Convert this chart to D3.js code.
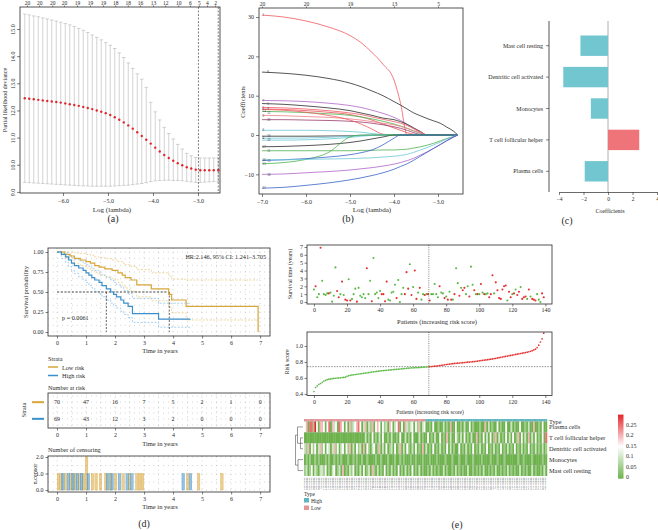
<!DOCTYPE html>
<html><head><meta charset="utf-8">
<script src="https://cdn.jsdelivr.net/npm/d3@7"></script>
<style>body{margin:0;background:#fff}svg{display:block}</style>
</head><body><svg id="c" width="658" height="530"></svg>
<script>
// ---------------- DATA ----------------
// (a) cross-validation curve
const lambdaA = [-6.85,-6.75,-6.65,-6.55,-6.45,-6.35,-6.25,-6.15,-6.05,-5.95,-5.85,-5.75,-5.65,-5.55,-5.45,-5.35,-5.25,-5.15,-5.05,-4.95,-4.85,-4.75,-4.65,-4.55,-4.45,-4.35,-4.25,-4.15,-4.05,-3.95,-3.85,-3.75,-3.65,-3.55,-3.45,-3.35,-3.25,-3.15,-3.05,-2.95,-2.85,-2.75,-2.65,-2.55];
const cvmA = [12.45,12.43,12.41,12.39,12.37,12.35,12.33,12.31,12.29,12.26,12.23,12.2,12.17,12.13,12.09,12.05,12.0,11.95,11.9,11.83,11.75,11.66,11.56,11.45,11.33,11.2,11.06,10.92,10.78,10.63,10.49,10.36,10.25,10.15,10.06,9.98,9.91,9.86,9.82,9.8,9.8,9.8,9.8,9.8];
const upA = [15.55,15.52,15.48,15.45,15.41,15.37,15.33,15.29,15.25,15.2,15.15,15.09,15.02,14.95,14.87,14.78,14.69,14.6,14.5,14.4,14.28,14.12,13.95,13.75,13.55,13.35,13.15,12.85,12.3,11.95,11.65,11.38,11.15,10.95,10.75,10.58,10.42,10.33,10.27,10.25,10.25,10.25,10.25,10.25];
const loA = [9.35,9.34,9.33,9.32,9.31,9.3,9.29,9.28,9.27,9.26,9.25,9.24,9.23,9.22,9.22,9.21,9.21,9.21,9.21,9.21,9.22,9.23,9.24,9.25,9.27,9.29,9.31,9.34,9.38,9.41,9.42,9.43,9.43,9.42,9.42,9.41,9.39,9.37,9.35,9.35,9.36,9.37,9.38,9.38];
const topLambdaA = [-6.8,-6.53,-6.24,-5.98,-5.69,-5.4,-5.11,-4.84,-4.56,-4.29,-4.0,-3.73,-3.44,-3.18,-2.98,-2.8,-2.62];
const topCountA = [20,20,20,20,19,19,19,18,18,16,13,12,10,6,5,4,2];
const vlineA = [-2.99,-2.55];
const xTicksA = [-6,-5,-4,-3];
const yTicksA = [9,10,11,12,13,14,15];

// (b) coefficient paths
const gridB = [-7,-6.5,-6,-5.5,-5,-4.75,-4.5,-4.25,-4,-3.85,-3.7,-3.55,-3.4,-3.25,-3.1,-2.95,-2.8,-2.65,-2.55];
const pathsB = [
 [30.5,30.0,29.0,27.5,25.3,23.5,21.0,18.0,14.0,8.0,0,0,0,0,0,0,0,0,0],
 [16.0,15.7,15.2,14.4,13.2,12.3,11.2,10.0,8.5,7.6,6.6,5.6,4.9,4.2,3.6,3.0,2.0,1.0,0],
 [8.8,8.7,8.5,8.1,7.5,7.0,6.3,5.5,4.5,3.7,2.7,1.6,0.6,0,0,0,0,0,0],
 [8.0,7.8,7.4,6.9,6.2,5.6,5.0,4.3,3.9,3.4,2.7,1.8,0.9,0,0,0,0,0,0],
 [7.0,6.9,6.6,6.2,5.6,5.2,4.6,4.0,3.4,3.0,2.4,1.6,0.8,0,0,0,0,0,0],
 [6.6,6.5,6.2,5.8,5.2,4.6,3.8,2.8,1.8,1.2,0.6,0.2,0,0,0,0,0,0,0],
 [6.0,5.9,5.7,5.4,5.0,4.6,4.1,3.5,2.8,2.3,1.7,1.0,0.4,0,0,0,0,0,0],
 [5.0,4.9,4.7,4.5,4.1,3.8,3.4,3.0,2.6,2.2,1.7,1.1,0.5,0,0,0,0,0,0],
 [3.9,3.9,3.8,3.7,3.5,3.3,3.0,2.6,2.1,1.7,1.2,0.6,0.1,0,0,0,0,0,0],
 [6.5,6.3,5.8,5.0,3.8,2.8,1.5,0.2,0,0,0,0,0,0,0,0,0,0,0],
 [1.2,1.2,1.2,1.1,0.9,0.7,0.4,0.1,0,0,0,0,0,0,0,0,0,0,0],
 [-0.3,-0.3,-0.3,-0.25,-0.2,-0.1,-0.05,0,0,0,0,0,0,0,0,0,0,0,0],
 [-0.8,-0.8,-0.75,-0.6,-0.3,-0.1,0,0,0,0,0,0,0,0,0,0,0,0,0],
 [-1.3,-1.3,-1.2,-1.0,-0.6,-0.3,-0.1,0,0,0,0,0,0,0,0,0,0,0,0],
 [-3.0,-2.9,-2.7,-2.4,-1.9,-1.5,-1.0,-0.5,0,0,0,0,0,0,0,0,0,0,0],
 [-4.0,-4.0,-4.0,-4.0,-4.0,-3.9,-3.9,-3.8,-3.8,-3.7,-3.6,-3.3,-3.0,-2.6,-2.1,-1.5,-0.9,-0.4,0],
 [-7.3,-7.0,-6.2,-4.5,-0.5,0,0,0,0,0,0,0,0,0,0,0,0,0,0],
 [-6.5,-6.3,-6.0,-5.6,-5.0,-4.5,-3.8,-2.5,-0.8,0,0,0,0,0,0,0,0,0,0],
 [-6.3,-6.3,-6.2,-6.1,-6.0,-5.9,-5.8,-5.6,-5.4,-5.2,-4.9,-4.4,-3.8,-3.2,-2.5,-1.8,-1.0,-0.4,0],
 [-10.0,-9.9,-9.6,-9.3,-8.9,-8.6,-8.3,-7.9,-7.4,-7.0,-6.5,-5.9,-5.1,-4.3,-3.4,-2.5,-1.5,-0.6,0],
 [-13.5,-13.3,-12.8,-12.2,-11.4,-10.9,-10.3,-9.6,-8.7,-8.0,-7.3,-6.4,-5.4,-4.4,-3.4,-2.4,-1.4,-0.5,0]
];
const pathColorsB = ["#f05a5f","#2b2b2b","#b066c8","#2b2b2b","#f05a5f","#e8505a","#4fb34f","#f07f88","#9b3b6b","#f05a5f","#6cc8d8","#2b2b2b","#6cc8d8","#6cc8d8","#2b2b2b","#4fb34f","#4fb34f","#3a63c8","#6cc8d8","#b066c8","#3a63c8"];
const pathLabelsB = ["1","8","7","5","2","9","12","3","20","14","6","10","4","19","17","11","15","13","16","18","21"];
const xTicksB = [-7,-6,-5,-4,-3];
const yTicksB = [-10,0,10,20,30];
const topCountB = [20,20,19,13,5];

// (c) model coefficients
const genesC = ["Mast cell resting","Dentritic cell activated","Monocytes","T cell follicular helper","Plasma cells"];
const coefC = [-2.25,-3.65,-1.4,2.55,-1.9];
const xTicksC = [-4,-2,0,2,4];

// (d) Kaplan-Meier
const lowT = [0,0.25,0.45,0.6,0.8,1.0,1.15,1.3,1.45,1.65,1.9,2.1,2.25,2.35,2.55,2.75,3.25,3.85,3.95,4.45,6.93];
const lowS = [1.0,0.97,0.95,0.92,0.9,0.88,0.86,0.83,0.81,0.79,0.77,0.74,0.71,0.68,0.65,0.59,0.54,0.47,0.40,0.32,0.0];
const lowUp = [1.0,1.0,1.0,0.99,0.98,0.97,0.96,0.94,0.93,0.92,0.9,0.88,0.86,0.84,0.82,0.78,0.74,0.7,0.66,0.65,0.65];
const lowLo = [1.0,0.93,0.9,0.86,0.83,0.8,0.77,0.74,0.71,0.69,0.66,0.62,0.58,0.55,0.51,0.44,0.39,0.31,0.24,0.15,0.15];
const highT = [0,0.15,0.3,0.4,0.5,0.6,0.75,0.9,1.0,1.1,1.2,1.3,1.45,1.55,1.7,1.85,1.95,2.05,2.2,2.3,2.45,2.6,3.5,4.6];
const highS = [1.0,0.97,0.94,0.90,0.86,0.83,0.80,0.77,0.74,0.71,0.68,0.65,0.62,0.58,0.54,0.50,0.47,0.44,0.40,0.36,0.32,0.23,0.16,0.16];
const highUp = [1.0,1.0,0.99,0.96,0.93,0.91,0.89,0.86,0.84,0.82,0.79,0.77,0.74,0.71,0.68,0.65,0.62,0.59,0.56,0.52,0.48,0.42,0.36,0.36];
const highLo = [1.0,0.92,0.87,0.82,0.77,0.73,0.69,0.65,0.62,0.58,0.55,0.51,0.48,0.44,0.40,0.36,0.33,0.30,0.26,0.22,0.18,0.12,0.06,0.06];
const medianT = [1.7,3.87];
const timeTicks = [0,1,2,3,4,5,6,7];
const survTicks = [0,0.25,0.5,0.75,1.0];
const atRiskLow = [70,47,16,7,5,2,1,0];
const atRiskHigh = [69,43,12,3,2,0,0,0];
const censorLowT = [0.05,0.14,0.3,0.48,0.62,0.78,0.92,1.02,1.22,1.35,1.5,1.68,1.85,2.02,2.28,2.5,2.75,2.85,2.95,4.5,4.88,5.68];
const censorLowN = [1,1,1,1,1,1,1,2,1,1,1,1,1,1,1,1,1,1,1,1,1,1];
const censorHighT = [0.2,0.4,0.55,0.7,0.85,1.08,1.75,1.9,2.15,2.42,2.58,4.35,4.6];
const censorHighN = [1,1,1,1,1,1,1,1,1,1,1,1,1];

// (e) risk plot
const riskScore = [0.43,0.48,0.50,0.52,0.53,0.545,0.56,0.57,0.578,0.584,0.588,0.591,0.594,0.596,0.598,0.600,0.602,0.604,0.606,0.609,
0.62,0.628,0.633,0.637,0.640,0.643,0.646,0.649,0.652,0.655,0.658,0.661,0.664,0.667,0.670,0.673,0.676,0.679,0.682,0.685,
0.688,0.690,0.692,0.694,0.696,0.698,0.700,0.702,0.704,0.706,0.708,0.710,0.712,0.714,0.716,0.718,0.720,0.722,0.724,0.726,
0.727,0.728,0.729,0.730,0.731,0.733,0.734,0.736,0.737,0.739,0.741,0.743,0.745,0.747,0.749,0.752,0.755,0.758,0.761,0.765,
0.768,0.771,0.774,0.777,0.779,0.781,0.783,0.785,0.787,0.789,0.791,0.793,0.795,0.797,0.799,0.801,0.803,0.805,0.808,0.811,
0.814,0.817,0.820,0.823,0.826,0.829,0.832,0.835,0.838,0.842,0.846,0.850,0.854,0.858,0.862,0.866,0.870,0.874,0.878,0.882,
0.886,0.890,0.894,0.898,0.902,0.906,0.910,0.914,0.918,0.923,0.928,0.934,0.941,0.95,0.96,0.98,1.01,1.05,1.09,1.16];
const survTime = [1.6,2.0,0.6,1.0,6.9,2.7,1.0,0.9,1.1,1.1,1.2,0.05,0.8,4.4,1.4,0.6,1.0,2.6,0.9,0.3,
0.2,2.9,0.2,0.4,1.0,1.7,0.05,1.8,0.8,0.6,1.0,0.5,4.3,1.0,2.7,0.1,5.6,1.0,1.2,0.5,
1.4,1.0,1.0,0.1,2.6,0.3,0.2,1.2,1.3,2.2,0.5,2.8,0.0,1.0,1.8,1.0,3.8,1.7,4.8,0.9,
1.9,4.0,0.4,1.2,1.8,0.3,1.0,0.9,1.0,1.0,0.2,1.0,1.0,2.3,1.0,0.6,2.0,1.2,1.1,0.5,
0.7,0.3,1.3,0.3,0.3,1.0,4.3,2.4,0.8,1.8,1.5,1.8,1.0,2.0,0.7,4.5,2.2,1.5,1.0,1.0,
1.0,2.3,1.2,1.0,1.0,1.1,0.6,1.0,3.4,1.1,2.5,1.5,0.5,0.4,1.6,2.0,2.1,0.2,1.3,0.6,
1.0,1.1,1.6,0.9,1.3,1.9,0.4,0.6,0.7,0.4,1.6,0.7,0.4,0.3,0.2,1.0,0.3,0.0,1.1,0.6];
const survDead = [0,1,0,0,1,0,0,0,0,1,0,0,0,0,1,1,0,1,0,1,
1,0,1,0,0,0,1,0,0,0,0,0,1,0,0,1,0,0,0,0,
0,1,1,1,1,0,0,0,0,0,1,0,0,0,0,1,1,1,0,1,
0,1,1,0,1,0,0,1,0,1,1,0,0,0,0,0,1,0,0,1,
0,1,0,1,0,1,0,0,1,0,1,1,0,0,1,0,0,1,0,1,
0,1,0,1,0,0,1,1,1,0,1,1,1,1,1,1,1,0,1,1,
0,1,0,1,1,0,1,1,1,0,1,0,1,1,1,0,0,0,1,1];
const cutIndex = 70;
const cutRisk = 0.741;
const patientTicks = [0,20,40,60,80,100,120,140];
const survYTicks = [0,1,2,3,4,5,6,7];
const riskYTicks = [0.4,0.6,0.8,1.0];

// heatmap (digit d -> fraction d*0.05)
const heatRows = ["Plasma cells","T cell follicular helper","Dentritic cell activated","Monocytes","Mast cell resting"];
const heatCodes = [
 ["3405516304","4303504230","5430304123","4530240214","0343031204","3023503042","1230314023","0010300100","2010400300","1020030100","0100402010","0301003002","0100300102","0040010300"],
 ["0000000000","0000000000","0000000000","0000020103","0102030010","2001030020","1030002010","0301020030","1040200310","2030102004","0103020301","4020103020","3014030204","0203010305"],
 ["2140313024","1303202413","0230314020","3120403102","3014020301","2030140203","1020301040","2010301020","1030201003","0102010301","0201030102","0103010201","0301020103","0102010201"],
 ["0101001010","0010100101","0100010010","1001001000","0100100010","0010010100","0100100010","0010001000","0100010001","0001000100","0010000100","0100010000","0001001000","0100000100"],
 ["1201302102","2130102301","2040102130","1020301204","1020103010","2010301020","1030102010","0102010100","2010010201","0100200101","0102001010","2001010201","0100201010","0201001020"]
];
const legendTicksE = [0,0.05,0.1,0.15,0.2,0.25];

// ---------------- DRAW ----------------
const F = '"Liberation Serif","DejaVu Serif","Times New Roman",serif';
const svg = d3.select('#c').attr('font-family', F);
svg.append('rect').attr('width',658).attr('height',530).attr('fill','#fff');
const INK = '#2a2a2a';

function T(g,x,y,s,o={}){
  const t=g.append('text').attr('x',x).attr('y',y).text(s)
   .attr('font-size',o.fs||6).attr('fill',o.fill||INK).attr('text-anchor',o.a||'start');
  if(o.rot!==undefined) t.attr('transform',`rotate(${o.rot},${x},${y})`);
  return t;
}
function styleAxis(sel, keepDomain){
  sel.attr('font-family',F).attr('font-size',6);
  sel.selectAll('text').attr('fill',INK);
  sel.selectAll('line').attr('stroke',INK).attr('stroke-width',0.6);
  if(!keepDomain) sel.select('.domain').remove(); else sel.select('.domain').attr('stroke',INK).attr('stroke-width',0.7);
}
function box(g,x0,y0,x1,y1,w){
  g.append('rect').attr('x',x0).attr('y',y0).attr('width',x1-x0).attr('height',y1-y0)
   .attr('fill','none').attr('stroke',INK).attr('stroke-width',w||0.8);
}

// ===== (a) =====
{
  const g = svg.append('g');
  const x = d3.scaleLinear().domain([-6.956,-2.511]).range([20,220]);
  const y = d3.scaleLinear().domain([8.96,15.81]).range([193,7]);
  const ax = g.append('g').attr('transform','translate(0,193)').call(d3.axisBottom(x).tickValues(xTicksA).tickSize(3).tickPadding(3));
  styleAxis(ax);
  const ay = g.append('g').attr('transform','translate(20,0)').call(d3.axisLeft(y).tickValues(yTicksA).tickSize(3));
  styleAxis(ay);
  ay.selectAll('text').attr('transform','rotate(-90)').attr('x',0).attr('y',-5).attr('dy',0).attr('text-anchor','middle');
  const at = g.append('g').attr('transform','translate(0,7)').call(d3.axisTop(x).tickValues(topLambdaA).tickSize(1.5).tickPadding(0.8).tickFormat((d,i)=>topCountA[i]));
  styleAxis(at); at.attr('font-size',5.5);
  lambdaA.forEach((l,i)=>{
    const cx=x(l);
    g.append('line').attr('x1',cx).attr('x2',cx).attr('y1',y(upA[i])).attr('y2',y(loA[i])).attr('stroke','#b5b5b5').attr('stroke-width',0.6);
    [upA[i],loA[i]].forEach(v=>g.append('line').attr('x1',cx-1.8).attr('x2',cx+1.8).attr('y1',y(v)).attr('y2',y(v)).attr('stroke','#b5b5b5').attr('stroke-width',0.6));
  });
  g.selectAll('circle.cv').data(lambdaA).join('circle').attr('cx',d=>x(d)).attr('cy',(d,i)=>y(cvmA[i])).attr('r',1.2).attr('fill','#e3262b');
  vlineA.forEach(v=>g.append('line').attr('x1',x(v)).attr('x2',x(v)).attr('y1',7).attr('y2',193).attr('stroke',INK).attr('stroke-width',0.6).attr('stroke-dasharray','2,1.5'));
  box(g,20,7,220,193);
  T(g,112,212,'Log (lambda)',{fs:7,a:'middle'});
  T(g,7,100,'Partial likelihood deviance',{fs:6,a:'middle',rot:-90});
  T(g,113,222,'(a)',{fs:10,a:'middle'});
}

// ===== (b) =====
{
  const g = svg.append('g');
  const x = d3.scaleLinear().domain([-7.068,-2.432]).range([259,463]);
  const y = d3.scaleLinear().domain([-15.0,32.3]).range([194,8]);
  const ax = g.append('g').attr('transform','translate(0,194)').call(d3.axisBottom(x).tickValues(xTicksB).tickSize(3).tickPadding(3));
  styleAxis(ax);
  const ay = g.append('g').attr('transform','translate(259,0)').call(d3.axisLeft(y).tickValues(yTicksB).tickSize(3).tickPadding(2));
  styleAxis(ay);
  const at = g.append('g').attr('transform','translate(0,8)').call(d3.axisTop(x).tickValues(xTicksB).tickSize(1.5).tickPadding(0.8).tickFormat((d,i)=>topCountB[i]));
  styleAxis(at); at.attr('font-size',5.5);
  const line = d3.line().x((d,i)=>x(gridB[i])).y(d=>y(d)).curve(d3.curveMonotoneX);
  pathsB.forEach((p,k)=>{
    g.append('path').attr('d',line(p)).attr('fill','none').attr('stroke',pathColorsB[k]).attr('stroke-width',0.8);
  });
  // start labels: two staggered columns, pushed apart to stay legible
  const order = pathsB.map((p,k)=>({k, yy:y(p[0])+1.2})).sort((a,b)=>a.yy-b.yy);
  const lastY=[-99,-99];
  order.forEach((o,j)=>{
    const c=j%2; let yy=Math.max(o.yy,lastY[c]+3.6); lastY[c]=yy;
    T(g,x(-7)+0.6+c*4.6,yy,pathLabelsB[o.k],{fs:3.2,fill:'#333'});
  });
  box(g,259,8,463,194);
  T(g,372,212,'Log (lambda)',{fs:7,a:'middle'});
  T(g,245,102,'Coefficients',{fs:6.5,a:'middle',rot:-90});
  T(g,348,222,'(b)',{fs:10,a:'middle'});
}

// ===== (c) =====
{
  const g = svg.append('g');
  const x = d3.scaleLinear().domain([-4,4]).range([559,657]);
  const y = d3.scaleBand().domain(genesC).range([30,187]).paddingInner(0.35).paddingOuter(0.175);
  g.append('line').attr('x1',x(0)).attr('x2',x(0)).attr('y1',21).attr('y2',192).attr('stroke','#999').attr('stroke-width',0.8);
  g.selectAll('rect.bar').data(genesC).join('rect')
    .attr('x',(d,i)=>x(Math.min(0,coefC[i]))).attr('width',(d,i)=>Math.abs(x(coefC[i])-x(0)))
    .attr('y',d=>y(d)).attr('height',y.bandwidth())
    .attr('fill',(d,i)=>coefC[i]>0?'#ef7479':'#72c6d0');
  const ax = g.append('g').attr('transform','translate(0,192)').call(d3.axisBottom(x).tickValues(xTicksC).tickSize(3).tickSizeOuter(0).tickPadding(2));
  styleAxis(ax,true); ax.attr('font-size',5.5);
  g.append('line').attr('x1',549).attr('x2',549).attr('y1',21).attr('y2',192).attr('stroke',INK).attr('stroke-width',0.8);
  genesC.forEach(d=>{
    const cy=y(d)+y.bandwidth()/2;
    g.append('line').attr('x1',546).attr('x2',549).attr('y1',cy).attr('y2',cy).attr('stroke',INK).attr('stroke-width',0.6);
    T(g,543,cy+2,d,{fs:6,a:'end'});
  });
  T(g,610,213,'Coefficients',{fs:6,a:'middle'});
  T(g,567,224,'(c)',{fs:10,a:'middle'});
}

// ===== (d) =====
const GOLD='#d8a63a', BLUE='#3b8fcb', GOLDL='#e8c978', BLUEL='#86bde6';
{
  const g = svg.append('g');
  const x = d3.scaleLinear().domain([-0.31,7.34]).range([48,270]);
  const y = d3.scaleLinear().domain([-0.05,1.05]).range([336,248]);
  function dotGrid(y0,y1,ys){
    for(let t=0;t<=7.01;t+=0.5) g.append('line').attr('x1',x(t)).attr('x2',x(t)).attr('y1',y0).attr('y2',y1).attr('stroke','#8a8a8a').attr('stroke-width',0.6).attr('stroke-dasharray','0.6,4');
    ys.forEach(v=>g.append('line').attr('x1',48).attr('x2',270).attr('y1',v).attr('y2',v).attr('stroke','#8a8a8a').attr('stroke-width',0.6).attr('stroke-dasharray','0.6,4.2'));
  }
  dotGrid(248,336,[252,258.7,265.3,272,278.7,285.3,292,298.7,305.3,312,318.7,325.3,332]);
  const step = d3.line().x(d=>x(d[0])).y(d=>y(d[1])).curve(d3.curveStepAfter);
  const zip=(t,s)=>t.map((v,i)=>[v,s[i]]);
  const ci=(t,s,end)=>{const a=zip(t,s); a.push([end,s[s.length-1]]); return a;};
  g.append('path').attr('d',step(ci(lowT.slice(0,-1),lowUp.slice(0,-1),6.93))).attr('fill','none').attr('stroke',GOLDL).attr('stroke-width',0.7).attr('stroke-dasharray','2,1.5');
  g.append('path').attr('d',step(ci(lowT.slice(0,-1),lowLo.slice(0,-1),6.93))).attr('fill','none').attr('stroke',GOLDL).attr('stroke-width',0.7).attr('stroke-dasharray','2,1.5');
  g.append('path').attr('d',step(zip(highT,highUp))).attr('fill','none').attr('stroke',BLUEL).attr('stroke-width',0.7).attr('stroke-dasharray','2,1.5');
  g.append('path').attr('d',step(zip(highT,highLo))).attr('fill','none').attr('stroke',BLUEL).attr('stroke-width',0.7).attr('stroke-dasharray','2,1.5');
  g.append('line').attr('x1',x(0)).attr('x2',x(medianT[1])).attr('y1',y(0.5)).attr('y2',y(0.5)).attr('stroke','#222').attr('stroke-width',0.8).attr('stroke-dasharray','2.2,1.5');
  medianT.forEach(t=>g.append('line').attr('x1',x(t)).attr('x2',x(t)).attr('y1',y(0.5)).attr('y2',y(0)).attr('stroke','#222').attr('stroke-width',0.7).attr('stroke-dasharray','2,1.5'));
  g.append('path').attr('d',step(zip(lowT,lowS))).attr('fill','none').attr('stroke',GOLD).attr('stroke-width',1.2);
  g.append('path').attr('d',step(zip(highT,highS))).attr('fill','none').attr('stroke',BLUE).attr('stroke-width',1.2);
  box(g,48,248,270,336);
  const ax = g.append('g').attr('transform','translate(0,336)').call(d3.axisBottom(x).tickValues(timeTicks).tickSize(2.5).tickPadding(2));
  styleAxis(ax);
  const ay = g.append('g').attr('transform','translate(48,0)').call(d3.axisLeft(y).tickValues(survTicks).tickSize(2.5).tickPadding(2).tickFormat(d3.format('.2f')));
  styleAxis(ay);
  T(g,160,353,'Time in years',{fs:6.5,a:'middle'});
  T(g,28,292,'Survival probability',{fs:6.5,a:'middle',rot:-90});
  T(g,266,259,'HR:2.146, 95% CI: 1.241–3.705',{fs:6.2,a:'end'});
  T(g,62,320,'p = 0.0061',{fs:6.2});
  T(g,48,361,'Strata',{fs:6.2});
  g.append('line').attr('x1',48).attr('x2',58).attr('y1',367).attr('y2',367).attr('stroke',GOLD).attr('stroke-width',1.5);
  T(g,62,369.5,'Low risk',{fs:6.2});
  g.append('line').attr('x1',48).attr('x2',58).attr('y1',375.5).attr('y2',375.5).attr('stroke',BLUE).attr('stroke-width',1.5);
  T(g,62,378,'High risk',{fs:6.2});
  T(g,48,390,'Number at risk',{fs:6.2});
  const yr = d3.scaleBand().domain(['Low','High']).range([393,428]).padding(0.1);
  dotGrid(393,428,[396,402,408,413,419,425]);
  box(g,48,393,270,428);
  timeTicks.forEach((t,i)=>{
    T(g,x(t),yr('Low')+yr.bandwidth()/2+2,atRiskLow[i],{fs:6,a:'middle'});
    T(g,x(t),yr('High')+yr.bandwidth()/2+2,atRiskHigh[i],{fs:6,a:'middle'});
  });
  g.append('rect').attr('x',32).attr('y',yr('Low')+yr.bandwidth()/2-1).attr('width',12).attr('height',2).attr('fill',GOLD);
  g.append('rect').attr('x',32).attr('y',yr('High')+yr.bandwidth()/2-1).attr('width',12).attr('height',2).attr('fill',BLUE);
  T(g,26,410,'Strata',{fs:6.2,a:'middle',rot:-90});
  const ax2 = g.append('g').attr('transform','translate(0,428)').call(d3.axisBottom(x).tickValues(timeTicks).tickSize(2.5).tickPadding(2));
  styleAxis(ax2);
  T(g,160,446,'Time in years',{fs:6.5,a:'middle'});
  T(g,48,452,'Number of censoring',{fs:6.2});
  const yn = d3.scaleLinear().domain([-0.12,2.06]).range([492,456]);
  dotGrid(456,492,[457,465.5,474,482,490]);
  censorLowT.forEach((t,i)=>g.append('rect').attr('x',x(t)-1.3).attr('width',2.6).attr('y',yn(censorLowN[i])).attr('height',yn(0)-yn(censorLowN[i])).attr('fill',GOLD).attr('fill-opacity',0.55).attr('stroke',GOLD).attr('stroke-width',0.3));
  censorHighT.forEach((t,i)=>g.append('rect').attr('x',x(t)-1.3).attr('width',2.6).attr('y',yn(censorHighN[i])).attr('height',yn(0)-yn(censorHighN[i])).attr('fill',BLUE).attr('fill-opacity',0.55).attr('stroke',BLUE).attr('stroke-width',0.3));
  box(g,48,456,270,492);
  const ax3 = g.append('g').attr('transform','translate(0,492)').call(d3.axisBottom(x).tickValues(timeTicks).tickSize(2.5).tickPadding(2));
  styleAxis(ax3);
  const ay3 = g.append('g').attr('transform','translate(48,0)').call(d3.axisLeft(yn).tickValues([0,1,2]).tickSize(2.5).tickPadding(2));
  styleAxis(ay3);
  T(g,160,509,'Time in years',{fs:6.5,a:'middle'});
  T(g,37,474,'n.censor',{fs:6.2,a:'middle',rot:-90});
  T(g,144,527,'(d)',{fs:10,a:'middle'});
}

// ===== (e) =====
{
  const g = svg.append('g');
  const x = d3.scaleLinear().domain([-4.2,144]).range([307,552]);
  const RED='#e4312f', GRN='#5cb947';
  const ys = d3.scaleLinear().domain([-0.25,7.25]).range([304,245]);
  g.selectAll('circle.s').data(survTime).join('circle').attr('cx',(d,i)=>x(i)).attr('cy',d=>ys(d)).attr('r',1.05)
    .attr('fill',(d,i)=>survDead[i]?RED:GRN);
  g.append('line').attr('x1',x(cutIndex-0.5)).attr('x2',x(cutIndex-0.5)).attr('y1',245).attr('y2',304).attr('stroke','#333').attr('stroke-width',0.6).attr('stroke-dasharray','1,1.2');
  box(g,307,245,552,304);
  const ax = g.append('g').attr('transform','translate(0,304)').call(d3.axisBottom(x).tickValues(patientTicks).tickSize(2.5).tickPadding(1.5));
  styleAxis(ax);
  const ay = g.append('g').attr('transform','translate(307,0)').call(d3.axisLeft(ys).tickValues(survYTicks).tickSize(2.5).tickPadding(1.5));
  styleAxis(ay);
  T(g,437,324,'Patients (increasing risk score)',{fs:6.5,a:'middle'});
  T(g,292,274,'Survival time (years)',{fs:6,a:'middle',rot:-90});
  const yr = d3.scaleLinear().domain([0.38,1.175]).range([395.5,332]);
  g.append('line').attr('x1',307).attr('x2',552).attr('y1',yr(cutRisk)).attr('y2',yr(cutRisk)).attr('stroke','#444').attr('stroke-width',0.6).attr('stroke-dasharray','1.5,1.2');
  g.append('line').attr('x1',x(cutIndex-0.5)).attr('x2',x(cutIndex-0.5)).attr('y1',332).attr('y2',395.5).attr('stroke','#333').attr('stroke-width',0.6).attr('stroke-dasharray','1,1.2');
  g.selectAll('circle.r').data(riskScore).join('circle').attr('cx',(d,i)=>x(i)).attr('cy',d=>yr(d)).attr('r',0.85)
    .attr('fill',(d,i)=>i<cutIndex?GRN:RED);
  box(g,307,332,552,395.5);
  const ax2 = g.append('g').attr('transform','translate(0,395.5)').call(d3.axisBottom(x).tickValues(patientTicks).tickSize(2.5).tickPadding(1.5));
  styleAxis(ax2);
  const ay2 = g.append('g').attr('transform','translate(307,0)').call(d3.axisLeft(yr).tickValues(riskYTicks).tickSize(2.5).tickPadding(1.5).tickFormat(d3.format('.1f')));
  styleAxis(ay2);
  T(g,430,414,'Patients (increasing risk score)',{fs:5.5,a:'middle'});
  T(g,289,362,'Risk score',{fs:6,a:'middle',rot:-90});

  const nCol = riskScore.length;
  const xh = d3.scaleBand().domain(d3.range(nCol)).range([304,547]);
  const yh = d3.scaleBand().domain(heatRows).range([421.5,476]);
  const col = d3.scaleLinear().domain([0,0.15,0.3]).range(['#6db24c','#ffffff','#e3262b']);
  const typeCol = {Low:'#e3969a', High:'#5fb6c3'};
  const w = xh.bandwidth();
  d3.range(nCol).forEach(i=>{
    g.append('rect').attr('x',xh(i)).attr('y',419).attr('width',w+0.25).attr('height',2.5).attr('fill',i<cutIndex?typeCol.Low:typeCol.High);
  });
  heatRows.forEach((r,k)=>{
    const vals = heatCodes[k].join('').split('').map(c=>(+c)*0.05);
    vals.forEach((v,i)=>{
      g.append('rect').attr('x',xh(i)).attr('y',yh(r)).attr('width',w+0.25).attr('height',yh.bandwidth()).attr('fill',col(v));
    });
  });
  heatRows.forEach(r=>g.append('line').attr('x1',304).attr('x2',547).attr('y1',yh(r)).attr('y2',yh(r)).attr('stroke','#9a9a9a').attr('stroke-width',0.25));
  T(g,549,423.5,'Type',{fs:6.3});
  heatRows.forEach(r=>T(g,549,yh(r)+yh.bandwidth()/2+2.2,r,{fs:6.3}));
  const rc = r=>yh(r)+yh.bandwidth()/2;
  const dend = (xa,ya,yb,xl)=>{ g.append('path').attr('d',`M${xl},${ya}H${xa}V${yb}H${xl}`).attr('fill','none').attr('stroke','#333').attr('stroke-width',0.5); };
  const t1 = (rc(heatRows[1])+rc(heatRows[2]))/2;
  dend(300.5,rc(heatRows[1]),rc(heatRows[2]),303);
  dend(297.5,rc(heatRows[0]),t1,303);
  dend(298,rc(heatRows[3]),rc(heatRows[4]),303);
  const t2 = (rc(heatRows[0])+t1)/2, t3=(rc(heatRows[3])+rc(heatRows[4]))/2;
  g.append('path').attr('d',`M297.5,${t2}H295.5V${t3}H298`).attr('fill','none').attr('stroke','#333').attr('stroke-width',0.5);
  d3.range(nCol).forEach(i=>{
    const cx = xh(i)+w/2-1;
    g.append('text').attr('transform',`translate(${cx},477.5) rotate(90)`).attr('font-size',2.7).attr('fill','#3a3a3a')
      .text('TCGA-'+String(i+1).padStart(3,'0'));
  });
  T(g,304,496,'Type',{fs:5.5});
  g.append('rect').attr('x',304).attr('y',498).attr('width',5).attr('height',4.5).attr('fill',typeCol.High);
  T(g,311,502.5,'High',{fs:5.5});
  g.append('rect').attr('x',304).attr('y',505.5).attr('width',5).attr('height',4.5).attr('fill',typeCol.Low);
  T(g,311,510,'Low',{fs:5.5});
  const yl = d3.scaleLinear().domain([0,0.3]).range([477,414.6]);
  const grad = svg.append('defs').append('linearGradient').attr('id','hg').attr('x1',0).attr('y1',1).attr('x2',0).attr('y2',0);
  [0,0.075,0.15,0.225,0.3].forEach(v=>grad.append('stop').attr('offset',v/0.3).attr('stop-color',col(v)));
  g.append('rect').attr('x',618).attr('y',yl(0.3)).attr('width',5.5).attr('height',yl(-0.008)-yl(0.3)).attr('fill','url(#hg)');
  legendTicksE.forEach(v=>T(g,626,yl(v)+2,String(v),{fs:6}));
  T(g,457,528,'(e)',{fs:10,a:'middle'});
}
</script></body></html>
